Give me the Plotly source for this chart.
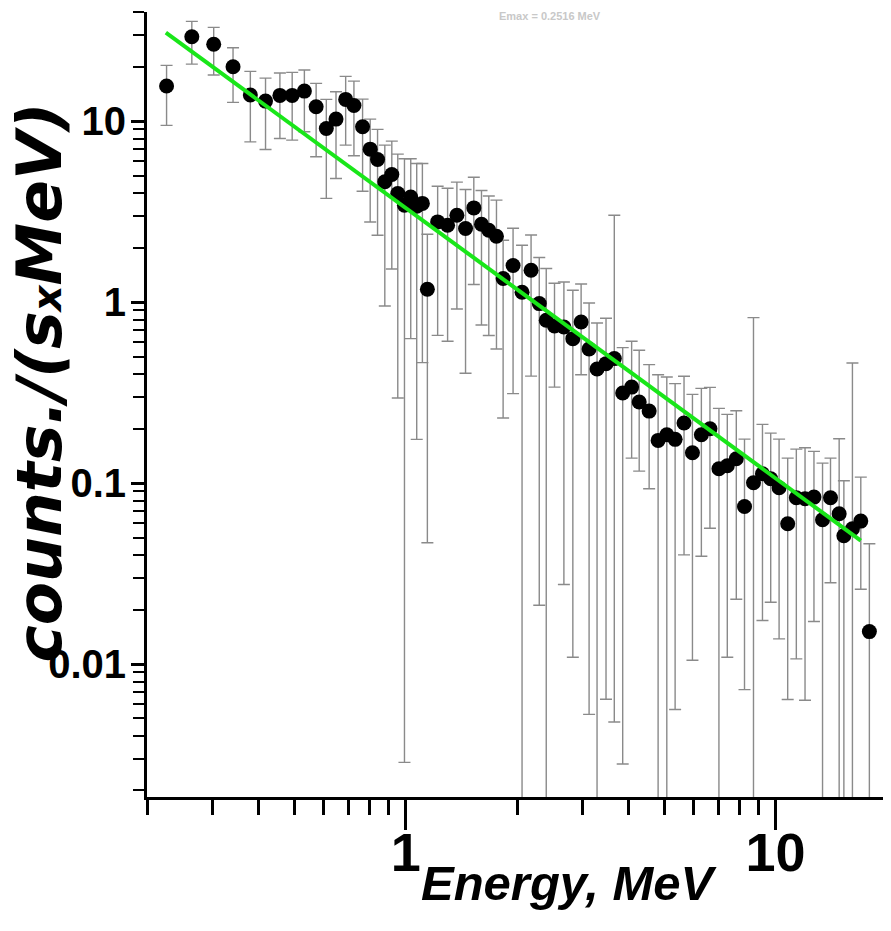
import plotly.graph_objects as go

# ---------------- data ----------------
energy_mev = [0.2254, 0.2638, 0.3023, 0.3410, 0.3798, 0.4175, 0.4566, 0.4929, 0.5318, 0.5722,
              0.6097, 0.6476, 0.6878, 0.7241, 0.7642, 0.8013, 0.8389, 0.8777, 0.9168, 0.9515,
              0.9920, 1.0315, 1.0707, 1.1092, 1.1441, 1.2198, 1.2978, 1.3751, 1.4512, 1.5279,
              1.6028, 1.6774, 1.7596, 1.8340, 1.9512, 2.0635, 2.1828, 2.2970, 2.3990, 2.5259,
              2.6778, 2.8314, 2.9813, 3.1330, 3.2923, 3.4815, 3.6654, 3.8627, 4.0839, 4.2805,
              4.5542, 4.8159, 5.0839, 5.3543, 5.6598, 5.9645, 6.3053, 6.6514, 7.0340, 7.4099,
              7.8376, 8.2491, 8.7240, 9.2257, 9.7117, 10.232, 10.795, 11.392, 12.026, 12.714,
              13.412, 14.095, 14.875, 15.318, 16.157, 17.021, 17.955]

counts_rate = [15.62, 29.27, 26.57, 19.97, 13.93, 12.90, 13.87, 13.87, 14.65, 12.00,
               9.11, 10.26, 13.18, 12.21, 9.30, 7.00, 6.14, 4.62, 5.07, 3.98,
               3.43, 3.81, 3.39, 3.51, 1.177, 2.773, 2.660, 3.02, 2.550, 3.315,
               2.694, 2.495, 2.311, 1.349, 1.592, 1.133, 1.499, 0.981, 0.793, 0.738,
               0.728, 0.628, 0.776, 0.550, 0.4266, 0.4568, 0.487, 0.3142, 0.339, 0.2803,
               0.2498, 0.1720, 0.1850, 0.1743, 0.2145, 0.1471, 0.1850, 0.1997, 0.1200, 0.1246,
               0.1363, 0.0742, 0.1004, 0.1126, 0.1056, 0.0942, 0.0596, 0.0829, 0.0818, 0.0836,
               0.0627, 0.0829, 0.0676, 0.0511, 0.0559, 0.0616, 0.0151]

# upper end of each error bar
err_upper = [20.32, 35.60, 32.98, 25.44, 18.83, 17.29, 18.43, 18.60, 19.15, 16.16,
             13.18, 14.52, 17.67, 16.64, 13.23, 10.26, 9.00, 7.37, 7.75, 6.57,
             6.19, 6.19, 5.83, 5.83, 2.371, 4.37, 4.26, 4.60, 4.19, 4.90,
             4.14, 3.86, 3.66, 2.197, 2.560, 2.062, 2.350, 1.762, 1.532, 1.270,
             1.292, 1.162, 1.259, 0.989, 0.766, 0.814, 3.02, 0.560, 0.607, 0.5414,
             0.451, 0.397, 0.3853, 0.3541, 0.3888, 0.309, 0.3336, 0.3379, 0.2586, 0.2395,
             0.2511, 0.1749, 0.821, 0.2110, 0.1888, 0.1749, 0.1373, 0.1540, 0.1568, 0.1496,
             0.1289, 0.1373, 0.1758, 0.1030, 0.4605, 0.1078, 0.0462]

# lower end of each error bar (0 = error bar reaches zero, i.e. off the log axis)
err_lower = [9.47, 20.66, 17.97, 12.69, 7.68, 6.97, 8.02, 7.85, 8.73, 6.35,
             3.74, 4.82, 7.37, 6.43, 4.10, 2.77, 2.34, 0.952, 1.524, 0.2948,
             0.00286, 0.628, 0.1743, 0.4629, 0.04675, 0.655, 0.607, 0.916, 0.404, 1.250,
             0.747, 0.653, 0.550, 0.2286, 0.3118, 0, 0.390, 0.02112, 0, 0.339,
             0.02749, 0.01089, 0.397, 0.00527, 0, 0.00638, 0.00478, 0.0028, 0.1373, 0.1164,
             0.0930, 0, 0, 0.0056, 0.0401, 0.01048, 0.0394, 0.0563, 0, 0.01089,
             0.0228, 0.00722, 0, 0.01738, 0.02194, 0.01376, 0.00636, 0.01067, 0.0063, 0.01716,
             0, 0.0281, 0, 0, 0, 0.0259, 0]

# power-law fit drawn as a straight line on log-log axes (end points)
fit_energy = [0.2244, 17.02]
fit_rate = [30.8, 0.0481]

x_major_ticks = [1, 10]
x_major_text = ["1", "10"]
x_minor_ticks = [0.2, 0.3, 0.4, 0.5, 0.6, 0.7, 0.8, 0.9, 2, 3, 4, 5, 6, 7, 8, 9, 20]
y_major_ticks = [0.01, 0.1, 1, 10]
y_major_text = ["0.01", "0.1", "1", "10"]
y_minor_ticks = [0.002, 0.003, 0.004, 0.005, 0.006, 0.007, 0.008, 0.009,
                 0.02, 0.03, 0.04, 0.05, 0.06, 0.07, 0.08, 0.09,
                 0.2, 0.3, 0.4, 0.5, 0.6, 0.7, 0.8, 0.9,
                 2, 3, 4, 5, 6, 7, 8, 9, 20, 30, 40]

err_plus = [u - v for u, v in zip(err_upper, counts_rate)]
err_minus = [v - l for v, l in zip(counts_rate, err_lower)]

LIB = "Liberation Sans, Arial, sans-serif"
DJV = "DejaVu Sans, Verdana, sans-serif"

fig = go.Figure()
fig.add_trace(go.Scatter(
    x=energy_mev, y=counts_rate, mode="markers",
    marker=dict(color="black", size=15, symbol="circle"),
    error_y=dict(type="data", array=err_plus, arrayminus=err_minus,
                 color="#8a8a8a", thickness=1.4, width=6),
    showlegend=False,
))
fig.add_trace(go.Scatter(
    x=fit_energy, y=fit_rate, mode="lines",
    line=dict(color="#19e619", width=4),
    showlegend=False,
))

# the page body adds an 8 px margin, so the figure is 8 px smaller than the window
fig.update_layout(
    width=883, height=923,
    margin=dict(l=139, r=0, t=4, b=134, autoexpand=False),
    paper_bgcolor="white", plot_bgcolor="white",
    xaxis=dict(
        type="log", range=[-0.7, 1.3127], automargin=False,
        showline=True, linecolor="black", linewidth=3, mirror=False,
        showgrid=False, zeroline=False,
        ticks="outside", ticklen=30, tickwidth=2.5, tickcolor="black",
        tickmode="array", tickvals=x_major_ticks, ticktext=x_major_text,
        ticklabelstandoff=-24,
        tickfont=dict(family=LIB, size=54, color="black", weight="bold"),
        minor=dict(tickmode="array", tickvals=x_minor_ticks, ticks="outside",
                   ticklen=15, tickwidth=2.5, tickcolor="black", showgrid=False),
    ),
    yaxis=dict(
        type="log", range=[-2.735, 1.603], automargin=False,
        showline=True, linecolor="black", linewidth=3, mirror=False,
        showgrid=False, zeroline=False,
        ticks="outside", ticklen=13, tickwidth=2.5, tickcolor="black",
        tickmode="array", tickvals=y_major_ticks, ticktext=y_major_text,
        ticklabelstandoff=-3,
        tickfont=dict(family=LIB, size=40, color="black", weight="bold"),
        minor=dict(tickmode="array", tickvals=y_minor_ticks, ticks="outside",
                   ticklen=11, tickwidth=2, tickcolor="black", showgrid=False),
    ),
    annotations=[
        dict(text="counts./(s<span style='font-size:40px'>x</span>MeV)",
             xref="paper", yref="paper", x=-0.1438, y=0.528,
             xanchor="center", yanchor="middle", textangle=-90, showarrow=False,
             font=dict(family=DJV, size=63, color="black", weight="bold", style="italic")),
        dict(text="Energy, MeV",
             xref="paper", yref="paper", x=0.568, y=-0.110,
             xanchor="center", yanchor="middle", showarrow=False,
             font=dict(family=LIB, size=49, color="black", weight="bold", style="italic")),
        dict(text="Emax = 0.2516 MeV",
             xref="paper", yref="paper", x=0.5417, y=1.0051,
             xanchor="center", yanchor="top", showarrow=False,
             font=dict(family=LIB, size=11, color="#c8c8c8", weight="bold")),
    ],
)

fig.write_html("out.html")
